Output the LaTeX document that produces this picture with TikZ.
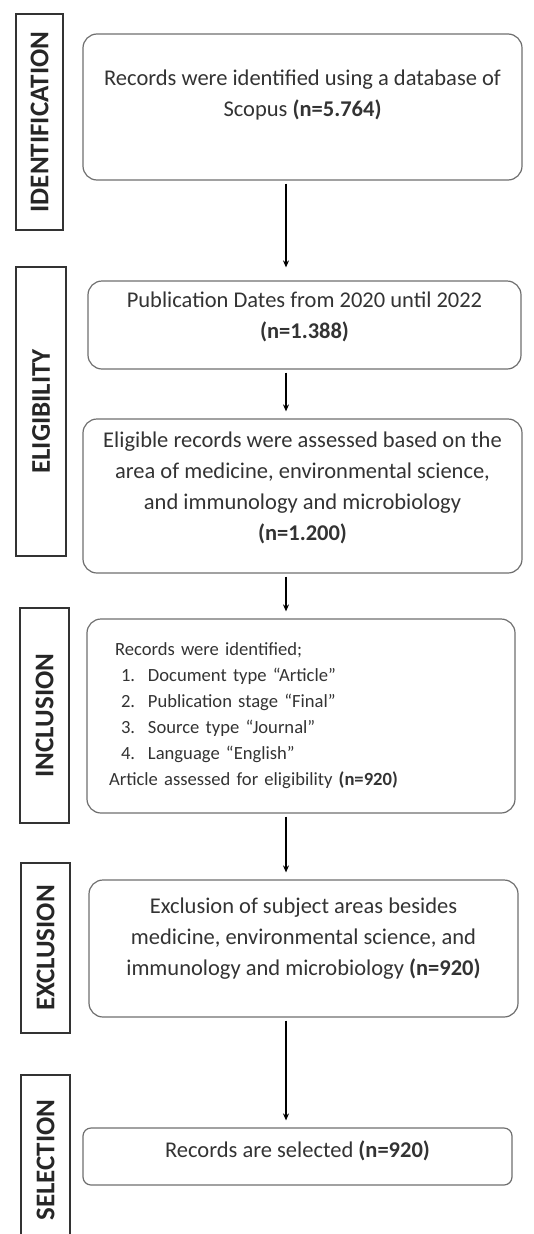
\documentclass[tikz,border=0pt]{standalone}
\usepackage{fontspec}
\setmainfont{Carlito}
\usetikzlibrary{arrows.meta}

\definecolor{boxgray}{HTML}{6E6E6E}
\definecolor{txtgray}{HTML}{333333}

\newcommand{\nval}[1]{\textbf{(n=#1)}}
\newcommand{\critem}[2]{\hspace*{12pt}\makebox[27pt][l]{#1}#2}

\begin{document}
\begin{tikzpicture}[x=1pt, y=-1pt]
    \useasboundingbox (0, 0) rectangle (533, 1234);

    \begin{scope}[every node/.style={draw=black!80, line width=1.4pt, rotate=90, inner sep=0pt, text=black!85, font=\fontsize{27}{30}\selectfont\bfseries}]
        \node[minimum width=216, minimum height=47] (L_1) at (39.5, 122) {IDENTIFICATION};
        \node[minimum width=289, minimum height=50] (L_2) at (41, 411.5) {ELIGIBILITY};
        \node[minimum width=215, minimum height=49] (L_3) at (44.5, 715.5) {INCLUSION};
        \node[minimum width=170, minimum height=49] (L_4) at (45.5, 948) {EXCLUSION};
        \node[minimum width=170, minimum height=49] (L_5) at (45.5, 1160) {SELECTION};
    \end{scope}

    \begin{scope}[every node/.style={draw=boxgray, line width=1.2pt, rounded corners=14pt, inner sep=0pt, align=center, text=txtgray, font=\fontsize{22.5}{31}\selectfont}]
        \node[minimum width=439, minimum height=146, text depth=27pt] (P_1) at (302.5, 107)
            {Records were identified using a database of\\ Scopus \nval{5.764}};
        \node[minimum width=433, minimum height=88, text depth=19pt] (P_2) at (304.5, 325)
            {Publication Dates from 2020 until 2022\\ \nval{1.388}};
        \node[minimum width=439, minimum height=154, text depth=19pt] (P_3) at (302.5, 496)
            {Eligible records were assessed based on the\\ area of medicine, environmental science,\\ and immunology and microbiology\\ \nval{1.200}};
        \node[minimum width=428, minimum height=194, inner xsep=22pt, text width=384pt, align=left, font=\fontsize{18.6}{26}\selectfont] (P_4) at (301, 716)
            {\hspace*{6pt}Records were identified;\\
             \critem{1.}{Document type “Article”}\\
             \critem{2.}{Publication stage “Final”}\\
             \critem{3.}{Source type “Journal”}\\
             \critem{4.}{Language “English”}\\
             Article assessed for eligibility \nval{920}};
        \node[minimum width=429, minimum height=137, text depth=23pt] (P_5) at (303.5, 948.5)
            {Exclusion of subject areas besides\\ medicine, environmental science, and\\ immunology and microbiology \nval{920}};
        \node[minimum width=429, minimum height=57, text depth=15pt, rounded corners=8pt] (P_6) at (297.5, 1156.5)
            {Records are selected \nval{920}};
    \end{scope}

    \coordinate (axis) at (286, 0);

    \begin{scope}[every edge/.style={draw=black, line width=1.2pt, shorten <=3pt, shorten >=7pt}]
        \path[-{Stealth[length=7pt, width=6pt]}] (P_1.south -| axis) edge[shorten >=13pt] (P_2.north -| axis);
        \path[-{Stealth[length=7pt, width=6pt]}] (P_2.south -| axis) edge (P_3.north -| axis);
        \path[-{Stealth[length=7pt, width=6pt]}] (P_3.south -| axis) edge (P_4.north -| axis);
        \path[-{Stealth[length=7pt, width=6pt]}] (P_4.south -| axis) edge (P_5.north -| axis);
        \path[-{Stealth[length=7pt, width=6pt]}] (P_5.south -| axis) edge (P_6.north -| axis);
    \end{scope}
\end{tikzpicture}
\end{document}
